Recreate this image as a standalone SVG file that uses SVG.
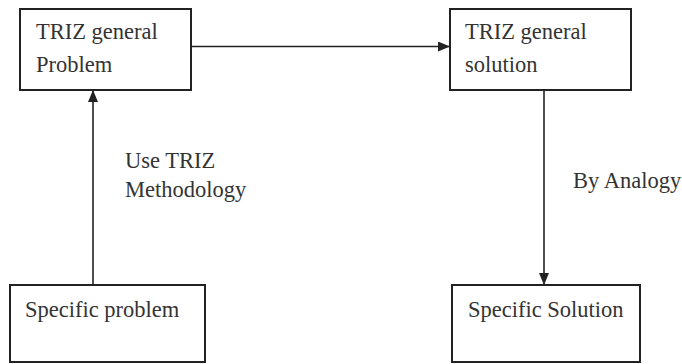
<svg xmlns="http://www.w3.org/2000/svg" width="682" height="364" viewBox="0 0 682 364">
<defs>
<style>
.box{fill:#fff;stroke:#222;stroke-width:2}
.t{font-family:"Liberation Serif","Times New Roman",serif;font-size:22.5px;fill:#333}
.c{stroke:#222;stroke-width:1.6;fill:none}
</style>
<marker id="ah" markerWidth="12" markerHeight="10" refX="11" refY="5" orient="auto" markerUnits="userSpaceOnUse">
<path d="M0,0 L12,5 L0,10 Z" fill="#222"/>
</marker>
</defs>
<rect width="682" height="364" fill="#fff"/>
<g id="connectors">
<line class="c" x1="191" y1="46.5" x2="449" y2="46.5" marker-end="url(#ah)"/>
<line class="c" x1="93" y1="285" x2="93" y2="91" marker-end="url(#ah)"/>
<line class="c" x1="544" y1="90" x2="544" y2="284" marker-end="url(#ah)"/>
<text class="t" x="125" y="168">Use TRIZ</text>
<text class="t" x="125" y="197">Methodology</text>
<text class="t" x="573" y="188">By Analogy</text>
</g>
<g id="n1">
<rect class="box" x="20" y="9" width="171" height="81"/>
<text class="t" x="36" y="39">TRIZ general</text>
<text class="t" x="36" y="72">Problem</text>
</g>
<g id="n2">
<rect class="box" x="450" y="9" width="181" height="81"/>
<text class="t" x="465" y="39">TRIZ general</text>
<text class="t" x="465" y="72">solution</text>
</g>
<g id="n3">
<rect class="box" x="10" y="285" width="195" height="77"/>
<text class="t" x="25" y="317">Specific problem</text>
</g>
<g id="n4">
<rect class="box" x="452" y="285" width="188" height="77"/>
<text class="t" x="468" y="317">Specific Solution</text>
</g>
</svg>
